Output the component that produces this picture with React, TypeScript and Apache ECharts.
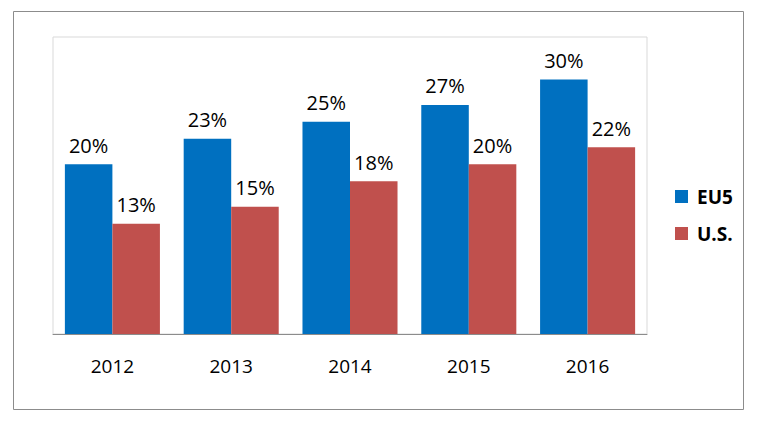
import React, { useEffect, useRef } from "react";
import * as echarts from "echarts";

const categories = ["2012", "2013", "2014", "2015", "2016"];
const eu5Values = [20, 23, 25, 27, 30];
const usValues = [13, 15, 18, 20, 22];
const seriesNames = ["EU5", "U.S."];

const FONT = "'Open Sans', 'Noto Sans', sans-serif";

export default function App() {
  const ref = useRef<HTMLDivElement>(null);

  useEffect(() => {
    if (!ref.current) return;
    const chart = echarts.init(ref.current, null, { renderer: "svg" });
    const label = {
      show: true,
      position: "top" as const,
      distance: 9,
      formatter: (p: any) => `${p.value}%`,
      color: "#000",
      fontFamily: FONT,
      fontSize: 20,
    };
    chart.setOption({
      animation: false,
      backgroundColor: "#fff",
      graphic: [
        {
          type: "rect",
          shape: { x: 13.5, y: 11.5, width: 730, height: 398 },
          style: { fill: "none", stroke: "#8c8c8c", lineWidth: 1 },
          silent: true,
        },
      ],
      legend: {
        orient: "vertical",
        left: 670,
        top: 182,
        itemWidth: 13,
        itemHeight: 13,
        itemGap: 18,
        icon: "rect",
        textStyle: {
          fontFamily: FONT,
          fontSize: 19,
          fontWeight: "bold",
          color: "#000",
          padding: [0, 0, 0, 4],
        },
        data: seriesNames,
      },
      grid: {
        left: 53,
        top: 37,
        width: 594,
        height: 297,
        show: true,
        borderColor: "#d9d9d9",
        borderWidth: 1,
      },
      xAxis: {
        type: "category",
        data: categories,
        axisLine: { lineStyle: { color: "#8c8c8c" } },
        axisTick: { show: false },
        axisLabel: { color: "#000", fontFamily: FONT, fontSize: 19, margin: 22 },
      },
      yAxis: {
        type: "value",
        min: 0,
        max: 35,
        show: false,
        splitLine: { show: false },
      },
      series: [
        {
          name: seriesNames[0],
          type: "bar",
          data: eu5Values,
          barGap: "0%",
          barCategoryGap: "20%",
          itemStyle: { color: "#0070C0" },
          label,
        },
        {
          name: seriesNames[1],
          type: "bar",
          data: usValues,
          barGap: "0%",
          barCategoryGap: "20%",
          itemStyle: { color: "#C0504D" },
          label,
        },
      ],
    });
    return () => chart.dispose();
  }, []);

  return (
    <div
      ref={ref}
      style={{ position: "fixed", left: 0, top: 0, width: 760, height: 426 }}
    />
  );
}
